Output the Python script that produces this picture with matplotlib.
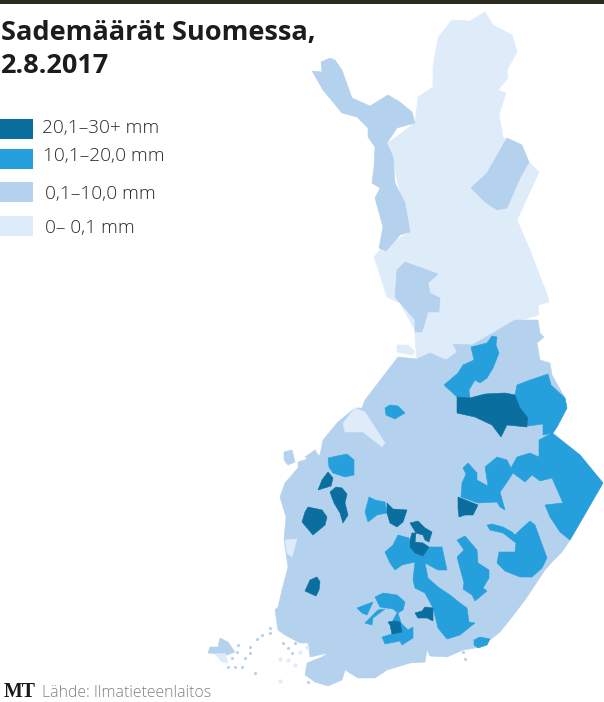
import matplotlib
matplotlib.use("Agg")
import matplotlib.pyplot as plt

### Rain classes
legend_labels = ["20,1–30+ mm", "10,1–20,0 mm", "0,1–10,0 mm", "0– 0,1 mm"]
title_lines = ["Sademäärät Suomessa,", "2.8.2017"]
source_text = "Lähde: Ilmatieteenlaitos"

DARK = "#0a6e9e"
BLUE = "#26a0dc"
MID = "#b4d1ee"
LIGHT = "#deebf9"

lapland = [(485,12),(493,25),(512,35),(517,52),(507,70),(508,78),(498,90),(506,93),(499,115),(503,137),
           (529,162),(539,172),(517,220),(530,250),(548,297),(549,302),(538,305),(539,315),(515,322),(493,333),
           (472,345),(453,344),(457,352),(446,360),(430,353),(417,359),(415,340),(415,330),(400,303),(387,297),
           (380,275),(374,257),(380,250),(410,232),(388,143),(415,123),(418,97),(433,87),(433,67),(438,38),
           (452,20),(470,21)]
south = [(515,320),(538,320),(540,333),(544,337),(537,343),(540,360),(550,363),(552,375),(565,398),(567,408),
         (557,427),(553,433),(580,455),(603,483),(570,540),(562,552),(552,562),(545,570),(535,585),(525,600),
         (512,617),(500,632),(490,640),(475,648),(463,650),(447,657),(430,656),(427,650),(425,662),(410,663),
         (387,670),(375,678),(358,678),(345,670),(342,680),(328,686),(315,682),(305,675),(307,663),(322,657),
         (328,653),(310,657),(308,643),(300,643),(285,635),(278,630),(275,610),(278,607),(282,590),(288,567),
         (284,540),(286,517),(280,497),(285,483),(298,468),(298,462),(320,455),(323,440),(338,422),(355,408),
         (362,408),(365,400),(388,370),(398,357),(417,359),(430,353),(446,360),(457,352),(453,344),(472,345),
         (493,333)]
arm = [(330,58),(321,62),(322,72),(312,71),(323,90),(342,113),(357,117),(368,128),(368,137),(375,147),
       (374,167),(372,183),(380,188),(375,198),(383,227),(379,248),(386,251),(400,235),(410,232),(405,203),
       (395,183),(393,157),(387,143),(397,128),(415,123),(412,112),(400,102),(388,95),(370,106),(352,98),
       (342,70),(335,60)]
lapland_east = [(507,138),(522,145),(529,162),(520,178),(507,208),(497,210),(485,202),(471,188),(487,173)]
lapland_mid = [(405,262),(438,274),(428,283),(430,293),(440,298),(439,312),(428,312),(422,332),(415,332),
               (415,320),(395,297),(397,270)]

strip = [(343,423),(355,408),(365,412),(385,443),(382,447),(363,432),(345,432)]
bay = [(397,345),(408,345),(415,352),(412,355),(397,352)]
west_coast = [(285,540),(297,539),(292,557),(287,553)]
aland = [(220,638),(228,642),(235,652),(227,655),(208,653),(210,647),(218,647)]
aland_light = [(215,654),(225,653),(228,663),(222,662)]
isle_a = [(284,452),(292,450),(295,462),(288,465),(284,460)]
isle_b = [(305,457),(315,450),(320,458),(313,463)]

blue_hook = [(492,336),(497,337),(496,345),(499,353),(493,368),(487,378),(480,383),(475,380),(469,390),(470,398),
             (457,397),(444,385),(458,373),(463,365),(474,360),(471,347),(487,343)]
blue_east = [(517,385),(530,380),(548,374),(551,385),(565,398),(567,408),(557,427),(553,433),(543,435),(543,424),
             (528,426),(528,418),(520,408),(515,395)]
blue_se = [(552,433),(580,455),(603,483),(570,540),(560,532),(550,517),(545,505),(563,503),(552,478),(540,481),
           (532,475),(525,482),(513,473),(503,488),(500,492),(505,510),(500,507),(497,502),(478,503),(461,497),
           (462,483),(466,474),(463,468),(468,463),(477,473),(477,480),(488,486),(485,467),(497,457),(507,460),
           (511,468),(517,457),(530,453),(539,457),(539,440)]
blue_inner = [(487,525),(492,524),(503,527),(512,532),(515,535),(520,530),(530,521),(535,525),(547,558),(542,568),
              (532,577),(520,577),(505,571),(497,563),(499,552),(515,552),(516,543),(503,533),(490,530)]
blue_tall = [(465,536),(477,550),(478,563),(489,570),(489,578),(483,588),(487,591),(475,601),(472,595),(463,589),
             (464,583),(457,557),(464,550),(457,540)]
blue_left = [(369,497),(375,500),(385,502),(387,513),(377,515),(368,522),(365,512)]
blue_center = [(398,535),(409,538),(410,547),(415,553),(423,556),(429,547),(442,547),(447,570),(438,570),(425,563),
               (428,578),(438,587),(450,595),(460,603),(467,608),(469,622),(475,623),(460,635),(447,639),(438,628),
               (433,608),(425,593),(415,588),(413,580),(415,562),(402,565),(395,570),(390,563),(385,552),(393,545)]
blue_isle = [(375,597),(383,593),(397,595),(405,602),(403,610),(398,613),(393,609),(380,607)]
blue_wedge = [(357,608),(373,602),(367,615),(362,613)]
blue_wedge2 = [(365,623),(378,610),(385,609),(373,618),(372,625)]
blue_lower = [(398,613),(401,623),(408,630),(413,627),(413,638),(402,645),(400,641),(385,644),(382,637),(392,634),
              (392,622),(397,613)]
blue_coast = [(474,640),(480,637),(490,639),(487,645),(478,648),(474,645)]
blue_top = [(328,458),(337,456),(347,454),(354,460),(354,475),(345,477),(333,473),(329,467)]
blue_spot = [(390,405),(398,406),(405,413),(395,419),(386,415),(385,408)]

dark_big = [(457,397),(470,398),(485,394),(505,393),(515,395),(520,408),(528,418),(527,427),(507,425),(501,437),
            (492,425),(475,417),(457,413)]
dark_kuopio = [(458,497),(478,505),(473,515),(465,515),(459,517),(458,508)]
dark_a = [(387,503),(393,509),(407,510),(403,522),(397,527),(390,523),(387,513)]
dark_b = [(410,523),(418,521),(425,528),(432,532),(429,542),(425,540),(423,535),(416,533),(413,528)]
dark_c = [(410,540),(412,533),(416,533),(415,542),(423,543),(429,547),(423,556),(415,553),(410,547)]
dark_d = [(415,613),(422,611),(425,607),(433,608),(433,621),(427,618),(418,618)]
dark_e = [(388,622),(395,621),(400,622),(402,632),(392,634),(390,625)]
dark_f = [(328,472),(333,478),(331,486),(318,490),(322,480)]
dark_g = [(336,487),(342,488),(347,494),(345,503),(348,515),(343,523),(340,513),(334,503),(330,492)]
dark_h = [(308,507),(322,510),(327,517),(325,525),(313,535),(302,522),(305,512)]
dark_i = [(317,577),(320,582),(319,590),(316,596),(305,591),(310,580)]

### Small islands off the coast
island_lon = [270,262,257,250,250,245,238,237,232,228,242,235,283,288,292,308,255,290,295,270,465,447,463,320,326]
island_lat = [633,635,639,647,653,658,645,652,658,667,667,667,643,648,653,682,673,635,643,628,659,653,652,668,676]
pale_lon = [280,288,300,307,280,295]
pale_lat = [659,660,652,647,681,665]

mid_regions = [south, arm, lapland_east, lapland_mid, aland, isle_a, isle_b]
light_regions = [strip, bay, west_coast, aland_light]
blue_regions = [blue_hook, blue_east, blue_se, blue_inner, blue_tall, blue_left, blue_center, blue_isle,
                blue_wedge, blue_wedge2, blue_lower, blue_coast, blue_top, blue_spot]
dark_regions = [dark_big, dark_kuopio, dark_a, dark_b, dark_c, dark_d, dark_e, dark_f, dark_g, dark_h, dark_i]


def draw_regions(ax, regions, color):
    for region in regions:
        ax.fill([p[0] for p in region], [p[1] for p in region], color=color, linewidth=0.4)


def main():
    fig = plt.figure(figsize=(6.04, 7.02), dpi=100)
    ax = fig.add_axes([0, 0, 1, 1])
    ax.set_xlim(0, 604)
    ax.set_ylim(702, 0)
    ax.axis("off")

    ax.fill([0, 604, 604, 0], [0, 0, 3.5, 3.5], color="#2c2a1c", linewidth=0)

    draw_regions(ax, [lapland], LIGHT)
    draw_regions(ax, mid_regions, MID)
    draw_regions(ax, light_regions, LIGHT)
    draw_regions(ax, blue_regions, BLUE)
    draw_regions(ax, dark_regions, DARK)
    ax.scatter(island_lon, island_lat, s=5, color=MID, linewidths=0)
    ax.scatter(pale_lon, pale_lat, s=9, color=LIGHT, linewidths=0)

    # legend swatches
    swatch_tops = [119, 149, 182, 216]
    text_x = [42, 43, 45, 45]
    text_y = [128, 156, 194, 228]
    colors = [DARK, BLUE, MID, LIGHT]
    for top, color, label, tx, ty in zip(swatch_tops, colors, legend_labels, text_x, text_y):
        ax.fill([0, 33, 33, 0], [top, top, top + 20, top + 20], color=color, linewidth=0)
        ax.text(tx, ty, label, fontsize=13.7, color="#2a2a2a", family="Open Sans", fontweight="light",
                va="center", ha="left")

    ax.text(1, 40, title_lines[0], fontsize=19.5, fontweight="bold", color="#1c1c1c", family="Open Sans")
    ax.text(1, 73, title_lines[1], fontsize=19.5, fontweight="bold", color="#1c1c1c", family="Open Sans")

    ax.text(4, 697, "MT", fontsize=14.3, fontweight="bold", color="#1a1a1a", family="Liberation Serif")
    ax.text(42, 697, source_text, fontsize=11.4, color="#808080", family="Open Sans", fontweight="light")

    fig.savefig("out.png", dpi=100)


if __name__ == "__main__":
    main()
